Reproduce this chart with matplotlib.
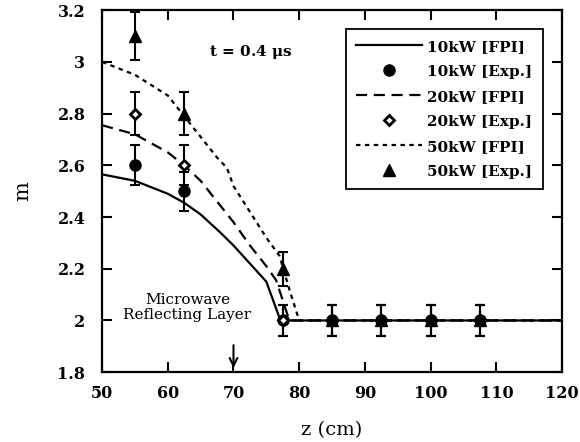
import numpy as np
import matplotlib
matplotlib.use('Agg')
import matplotlib.pyplot as plt

plt.rcParams['font.family'] = ['DejaVu Serif']
plt.rcParams['mathtext.fontset'] = 'dejavuserif'

# FPI curves (z in cm, m)
z_10 = [50, 55, 60, 62.5, 65, 68, 70, 72.5, 75, 77, 77.5, 120]
m_10 = [2.565, 2.54, 2.49, 2.455, 2.41, 2.34, 2.29, 2.22, 2.15, 2.01, 2.0, 2.0]

z_20 = [50, 55, 60, 62.5, 65, 67.5, 70, 72.5, 75, 76.5, 78.5, 120]
m_20 = [2.755, 2.72, 2.65, 2.60, 2.54, 2.46, 2.38, 2.29, 2.21, 2.155, 2.0, 2.0]

z_50 = [50, 55, 60, 62.5, 65, 67.5, 69, 70, 72.5, 75, 77, 78.5, 80, 120]
m_50 = [3.0, 2.95, 2.87, 2.79, 2.71, 2.63, 2.59, 2.52, 2.42, 2.32, 2.25, 2.12, 2.0, 2.0]

# experiment
z_exp = [55, 62.5, 77.5, 85, 92.5, 100, 107.5]
exp_10 = [2.6, 2.5, 2.0, 2.0, 2.0, 2.0, 2.0]
exp_20 = [2.8, 2.6, 2.0, 2.0, 2.0, 2.0, 2.0]
exp_50 = [3.1, 2.8, 2.2, 2.0, 2.0, 2.0, 2.0]
err_10 = [0.078, 0.075, 0.06, 0.06, 0.06, 0.06, 0.06]
err_20 = [0.084, 0.078, 0.06, 0.06, 0.06, 0.06, 0.06]
err_50 = [0.093, 0.084, 0.066, 0.06, 0.06, 0.06, 0.06]

fig = plt.figure(figsize=(5.8, 4.42), dpi=100)
ax = fig.add_axes([0.176, 0.158, 0.793, 0.819])

l1, = ax.plot(z_10, m_10, '-', color='black', lw=1.6)
eb_kw = dict(fmt='none', ecolor='black', elinewidth=1.5, capsize=3.5, capthick=1.5)
ax.errorbar(z_exp, exp_10, yerr=err_10, **eb_kw)
ax.errorbar(z_exp, exp_20, yerr=err_20, **eb_kw)
ax.errorbar(z_exp, exp_50, yerr=err_50, **eb_kw)
p1, = ax.plot(z_exp, exp_10, 'o', color='black', ms=8, ls='none')
l2, = ax.plot(z_20, m_20, color='black', lw=1.6, dashes=(5, 3))
p2, = ax.plot(z_exp, exp_20, 'D', mfc='white', mec='black', mew=2, ms=5.5, ls='none')
l3, = ax.plot(z_50, m_50, color='black', lw=1.6, dashes=(2, 2))
p3, = ax.plot(z_exp, exp_50, '^', color='black', ms=8.5, ls='none')

leg = ax.legend([l1, p1, l2, p2, l3, p3],
                ['10kW [FPI]', '10kW [Exp.]', '20kW [FPI]', '20kW [Exp.]', '50kW [FPI]', '50kW [Exp.]'],
                loc='upper right', bbox_to_anchor=(0.959, 0.948), borderaxespad=0,
                fancybox=False, edgecolor='black', framealpha=1,
                prop={'size': 11, 'weight': 'bold'}, handlelength=4.3, labelspacing=0.72,
                handletextpad=0.35, borderpad=0.7)
leg.get_frame().set_linewidth(1.3)

ax.text(72.6, 3.04, r't = 0.4 $\mathbf{\mu}$s', fontsize=11, fontweight='bold', ha='center', va='center')
ax.text(63, 1.995, 'Microwave\nReflecting Layer', fontsize=11, ha='center', va='bottom', linespacing=1.1)
ax.annotate('', xy=(70, 1.805), xytext=(70, 1.915),
            arrowprops=dict(arrowstyle='->', color='black', lw=1.5, mutation_scale=14))

ax.set_xlim(50, 120)
ax.set_ylim(1.8, 3.2)
ax.set_xticks(np.arange(50, 121, 10))
ax.set_yticks([1.8, 2.0, 2.2, 2.4, 2.6, 2.8, 3.0, 3.2])
ax.set_yticklabels(['1.8', '2', '2.2', '2.4', '2.6', '2.8', '3', '3.2'])
ax.tick_params(direction='in', length=7, width=1.5, top=True, right=True,
               labelsize=11.5)
ax.tick_params(axis='x', pad=9)
ax.tick_params(axis='y', pad=12)
for lab in ax.get_xticklabels() + ax.get_yticklabels():
    lab.set_fontweight('bold')
for s in ax.spines.values():
    s.set_linewidth(1.6)

ax.set_xlabel('z (cm)', fontsize=14, labelpad=14)
ax.set_ylabel('m', fontsize=15, labelpad=18)

fig.savefig('out.png', dpi=100)
